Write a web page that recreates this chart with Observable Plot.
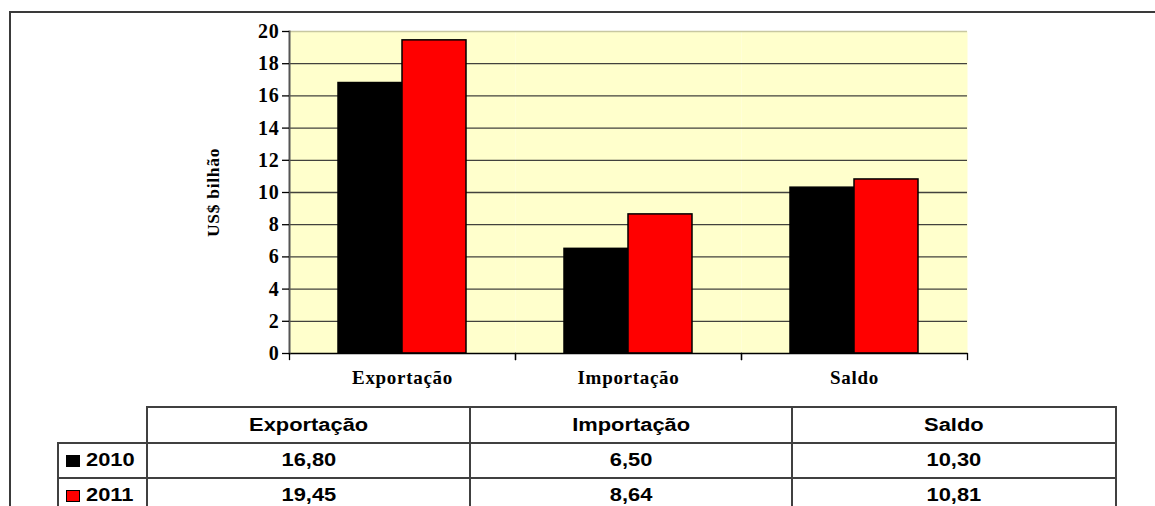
<!DOCTYPE html>
<html>
<head>
<meta charset="utf-8">
<script src="https://cdn.jsdelivr.net/npm/d3@7"></script>
<script src="https://cdn.jsdelivr.net/npm/@observablehq/plot@0.6"></script>
<style>
  html, body { margin: 0; padding: 0; background: #fff; }
  #wrap { position: relative; width: 1155px; height: 506px; overflow: hidden; }
  #frame { position: absolute; left: 9px; top: 11px; width: 1200px; height: 600px;
           border-top: 2px solid #3a3a3a; border-left: 2px solid #3a3a3a; }
  #chart { position: absolute; left: 0; top: 0; }
  #chart svg text { letter-spacing: 0.7px; }
  #tbl { position: absolute; left: 57px; top: 406px; border-collapse: collapse;
         font-family: "Liberation Sans", Arial, sans-serif; font-weight: bold; font-size: 17.5px; color: #000; }
  #tbl td { border: 2px solid #404040; padding: 0; text-align: center; }
  #tbl td.blank { border-top: none; border-left: none; }
  #tbl td.rowhead { text-align: left; }
  #tbl .s { display: inline-block; transform: scaleX(1.25); transform-origin: center; }
  #tbl .rowhead .s { transform-origin: left center; }
  .key { display: inline-block; width: 12px; height: 10px; border: 1px solid #000; margin: 0 6px 0 7px; vertical-align: -1px; }
</style>
</head>
<body>
<div id="wrap">
  <div id="frame"></div>
  <div id="chart"></div>
  <table id="tbl"></table>
</div>
<script>
const categories = ["Exportação", "Importação", "Saldo"];
const years = ["2010", "2011"];
const values2010 = [16.80, 6.50, 10.30];
const values2011 = [19.45, 8.64, 10.81];
const yTicks = [0, 2, 4, 6, 8, 10, 12, 14, 16, 18, 20];
const seriesColors = ["#000000", "#FF0000"];

const series = [values2010, values2011];
const rows = categories.flatMap((c, i) => years.map((y, j) => ({category: c, year: y, value: series[j][i]})));

const chart = Plot.plot({
  width: 1155,
  height: 400,
  marginLeft: 288,
  marginRight: 187,
  marginTop: 31,
  marginBottom: 47,
  style: {
    fontFamily: "'Liberation Serif', 'Times New Roman', serif",
    fontWeight: "bold",
    fontSize: "19px",
    color: "#000",
    background: "transparent",
    overflow: "visible"
  },
  fx: {domain: categories, padding: 0, label: null},
  x: {domain: years, paddingInner: 0, paddingOuter: 0.76, axis: null},
  y: {domain: [0, 20], label: null},
  color: {domain: years, range: seriesColors},
  marks: [
    Plot.frame({fill: "#FFFFCC"}),
    Plot.gridY(yTicks.filter(t => t > 0 && t < 20), {stroke: "#2e2e2e", strokeOpacity: 0.9, strokeWidth: 1.3}),
    Plot.gridY([20], {stroke: "#c8c8a0", strokeOpacity: 1, strokeWidth: 1.3}),
    Plot.barY(rows, {fx: "category", x: "year", y: "value", fill: "year", stroke: "#000", strokeWidth: 1.5}),
    Plot.ruleY([0], {stroke: "#000", strokeWidth: 1.5}),
    Plot.frame({anchor: "left", facetAnchor: "left", stroke: "#555", strokeWidth: 2}),
    Plot.frame({anchor: "left", insetTop: 322, insetBottom: -6, stroke: "#000", strokeWidth: 1.3}),
    Plot.frame({anchor: "right", insetTop: 322, insetBottom: -6, stroke: "#000", strokeWidth: 1.3}),
    Plot.axisY(yTicks, {anchor: "left", tickSize: 7, tickPadding: 3, strokeWidth: 1.3, label: null, fontSize: 20}),
    Plot.axisY(yTicks, {anchor: "left", tickSize: 0, text: null,
      label: "US$ bilhão", labelAnchor: "center", labelArrow: "none", labelOffset: 83, fontSize: 17.5}),
    Plot.axisFx({anchor: "bottom", tickSize: 0, tickPadding: 17, label: null, fontSize: 19})
  ]
});
document.getElementById("chart").appendChild(chart);

// Data table
const fmt = v => v.toFixed(2).replace(".", ",");
const tbl = document.getElementById("tbl");
const colW = [88, 321, 320, 322];
let html = `<tr style="height:36px"><td class="blank" style="width:${colW[0]}px"></td>` +
  categories.map((c, i) => `<td style="width:${colW[i + 1]}px"><span class="s">${c}</span></td>`).join("") + `</tr>`;
years.forEach((y, j) => {
  html += `<tr style="height:35px"><td class="rowhead"><span class="key" style="background:${seriesColors[j]}"></span><span class="s">${y}</span></td>` +
    series[j].map(v => `<td><span class="s">${fmt(v)}</span></td>`).join("") + `</tr>`;
});
tbl.innerHTML = html;
</script>
</body>
</html>
